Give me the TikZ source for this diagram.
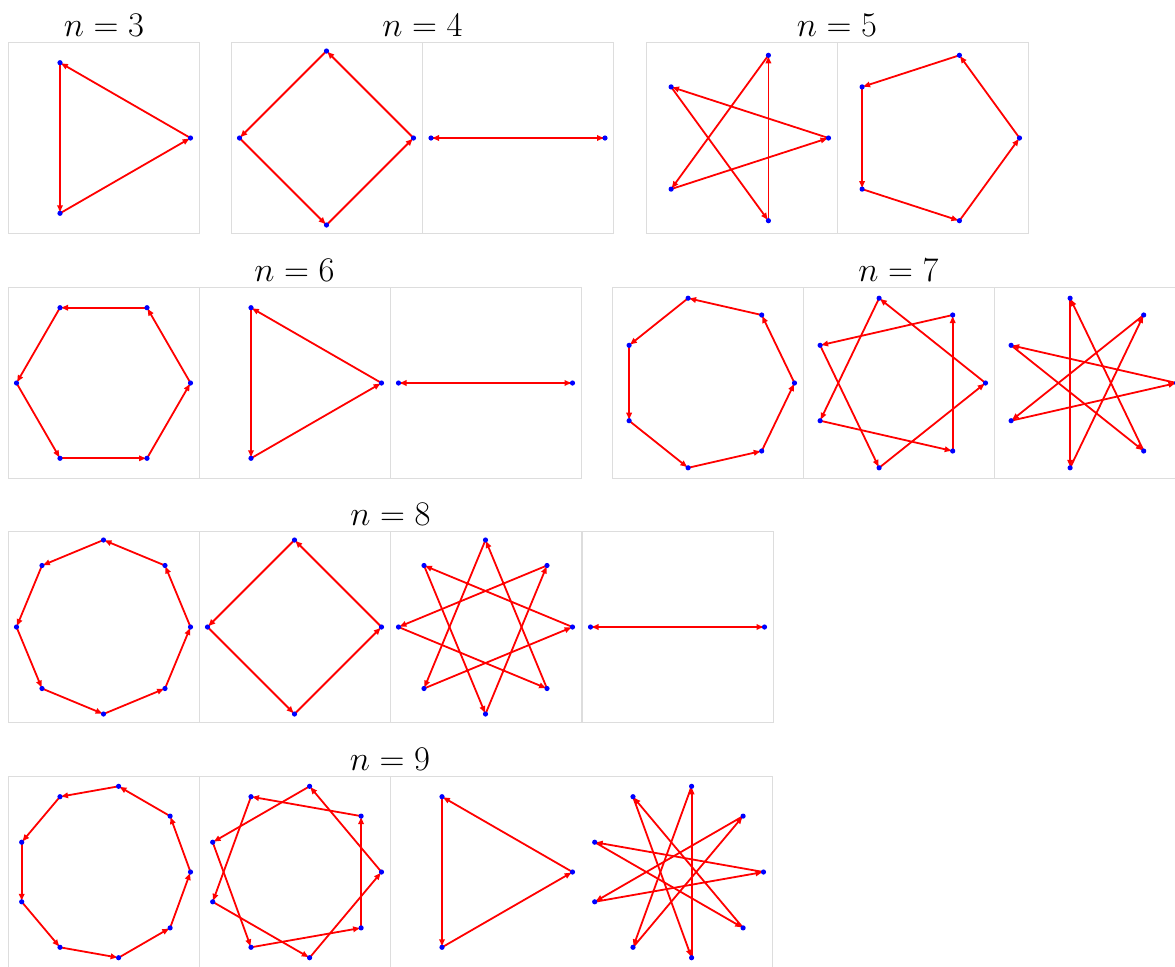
\documentclass[tikz,border=0pt]{standalone}
\usepackage{xcolor}
\usepackage{tikz}
\usetikzlibrary{arrows.meta}

\definecolor{framegray}{HTML}{DDDDDD}

% one panel: left, top, n, k, name
\newcommand{\starpanel}[5]{%
  \pgfmathsetmacro{\cx}{#1+95.5}%
  \pgfmathsetmacro{\cy}{#2+96}%
  \pgfmathtruncatemacro{\steps}{#3/gcd(#3,#4)}%
  \pgfmathtruncatemacro{\last}{\steps-1}%
  \foreach \j in {0,...,\steps}
    \coordinate (#5-\j) at ({\cx+round(870*cos(\j*360*#4/#3))/10},{\cy-round(870*sin(\j*360*#4/#3))/10});
  \foreach \j [evaluate=\j as \i using {int(\j+1)}] in {0,...,\last}
    \draw[chord] (#5-\j) -- (#5-\i);
  \foreach \j in {0,...,\last}
    \fill[vdot] (#5-\j) circle (1.3pt);
}

\begin{document}
\begin{tikzpicture}[
  x=0.5pt, y=-0.5pt,
  chord/.style={
    red,
    line width=0.9pt,
    -{Latex[length=4pt,width=3.2pt]}
  },
  vdot/.style={fill=blue},
  panelframe/.style={draw=framegray, line width=0.5pt},
  heading/.style={anchor=base, inner sep=0pt, font=\fontsize{16}{19}\selectfont}
]
\useasboundingbox (0,0) rectangle (1175,966);

% frames
\foreach \l/\t in {8/42, 231/42, 422.5/42, 646/42, 837/42,
                   8/287, 199/287, 390/287, 612/287, 803/287, 994/287,
                   8/531, 199/531, 390/531, 582/531,
                   8/776, 199/776}
  \draw[panelframe] (\l,\t) rectangle ++(191,191);
\draw[panelframe] (390,776) rectangle ++(382,191);

% titles
\node[heading] (t3) at (104,36)    {$n=3$};
\node[heading] (t4) at (422.5,36)  {$n=4$};
\node[heading] (t5) at (837,36)    {$n=5$};
\node[heading] (t6) at (294.5,281) {$n=6$};
\node[heading] (t7) at (898.5,281) {$n=7$};
\node[heading] (t8) at (390.5,525) {$n=8$};
\node[heading] (t9) at (390,770)   {$n=9$};

% star polygons
\starpanel{8}{42}{3}{1}{s3a}
\starpanel{231}{42}{4}{1}{s4a}
\starpanel{422.5}{42}{4}{2}{s4b}
\starpanel{646}{42}{5}{2}{s5b}
\starpanel{837}{42}{5}{1}{s5a}

\starpanel{8}{287}{6}{1}{s6a}
\starpanel{199}{287}{6}{2}{s6b}
\starpanel{390}{287}{6}{3}{s6c}
\starpanel{612}{287}{7}{1}{s7a}
\starpanel{803}{287}{7}{2}{s7b}
\starpanel{994}{287}{7}{3}{s7c}

\starpanel{8}{531}{8}{1}{s8a}
\starpanel{199}{531}{8}{2}{s8b}
\starpanel{390}{531}{8}{3}{s8c}
\starpanel{582}{531}{8}{4}{s8d}

\starpanel{8}{776}{9}{1}{s9a}
\starpanel{199}{776}{9}{2}{s9b}
\starpanel{390}{776}{9}{3}{s9c}
\starpanel{581}{776}{9}{4}{s9d}
\end{tikzpicture}
\end{document}
